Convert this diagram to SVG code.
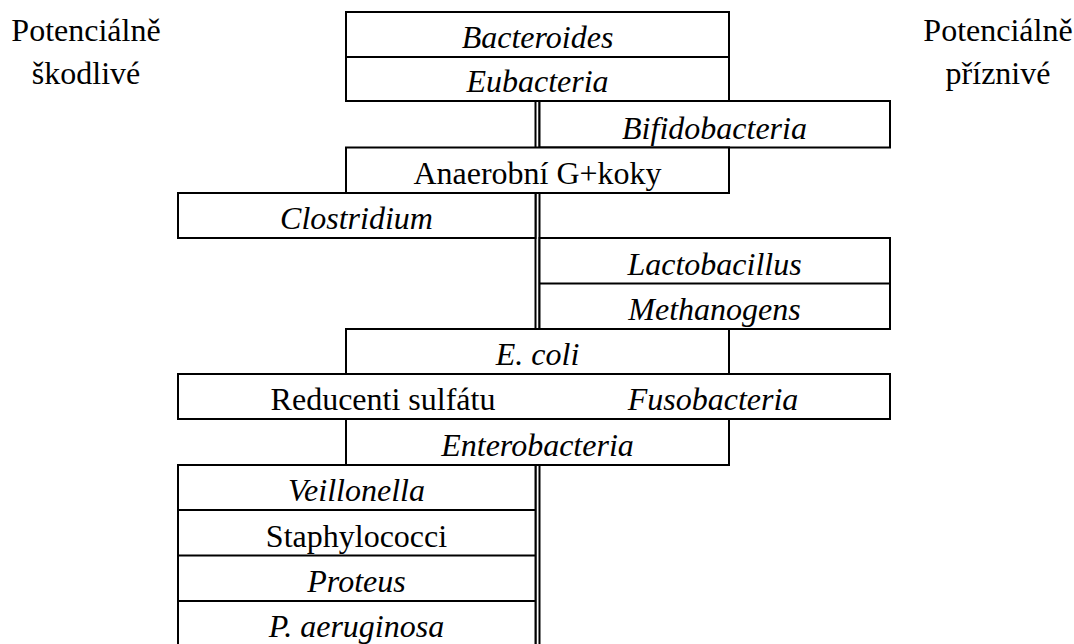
<svg xmlns="http://www.w3.org/2000/svg" width="1074" height="644" viewBox="0 0 1074 644">
<rect x="0" y="0" width="1074" height="644" fill="#fff"/>
<g id="connectors" stroke="#000" stroke-width="2">
<line x1="535.5" y1="101" x2="535.5" y2="650"/>
<line x1="539.5" y1="101" x2="539.5" y2="650"/>
</g>
<g id="label-left">
<text x="86" y="41" font-family="'Liberation Serif'" font-size="32" text-anchor="middle">Potenciálně</text>
<text x="86" y="84" font-family="'Liberation Serif'" font-size="32" text-anchor="middle">škodlivé</text>
</g>
<g id="label-right">
<text x="998" y="41" font-family="'Liberation Serif'" font-size="32" text-anchor="middle">Potenciálně</text>
<text x="998" y="84" font-family="'Liberation Serif'" font-size="32" text-anchor="middle">příznivé</text>
</g>
<g id="bacteroides-eubacteria">
<rect x="346" y="12" width="383" height="89" fill="#fff" stroke="#000" stroke-width="2"/>
<line x1="346" y1="57" x2="729" y2="57" stroke="#000" stroke-width="2"/>
<text x="537.5" y="48" font-family="'Liberation Serif'" font-size="32" font-style="italic" text-anchor="middle">Bacteroides</text>
<text x="537.5" y="92" font-family="'Liberation Serif'" font-size="32" font-style="italic" text-anchor="middle">Eubacteria</text>
</g>
<g id="bifidobacteria">
<rect x="539.5" y="101" width="350.5" height="46.5" fill="#fff" stroke="#000" stroke-width="2"/>
<text x="714.5" y="138.5" font-family="'Liberation Serif'" font-size="32" font-style="italic" text-anchor="middle">Bifidobacteria</text>
</g>
<g id="anaerobni">
<rect x="346" y="147.5" width="383" height="45.5" fill="#fff" stroke="#000" stroke-width="2"/>
<text x="537.5" y="184" font-family="'Liberation Serif'" font-size="32" text-anchor="middle">Anaerobní G+koky</text>
</g>
<g id="clostridium">
<rect x="178" y="193" width="357.5" height="45" fill="#fff" stroke="#000" stroke-width="2"/>
<text x="356.5" y="229" font-family="'Liberation Serif'" font-size="32" font-style="italic" text-anchor="middle">Clostridium</text>
</g>
<g id="lactobacillus-methanogens">
<rect x="539.5" y="238" width="350.5" height="91" fill="#fff" stroke="#000" stroke-width="2"/>
<line x1="539.5" y1="283.5" x2="890" y2="283.5" stroke="#000" stroke-width="2"/>
<text x="714.5" y="274.5" font-family="'Liberation Serif'" font-size="32" font-style="italic" text-anchor="middle">Lactobacillus</text>
<text x="714.5" y="320" font-family="'Liberation Serif'" font-size="32" font-style="italic" text-anchor="middle">Methanogens</text>
</g>
<g id="ecoli">
<rect x="346" y="329" width="383" height="45" fill="#fff" stroke="#000" stroke-width="2"/>
<text x="537.5" y="365" font-family="'Liberation Serif'" font-size="32" font-style="italic" text-anchor="middle">E. coli</text>
</g>
<g id="reducenti-fusobacteria">
<rect x="178" y="374" width="712" height="45" fill="#fff" stroke="#000" stroke-width="2"/>
<text x="383" y="410" font-family="'Liberation Serif'" font-size="32" text-anchor="middle">Reducenti sulfátu</text>
<text x="713" y="410" font-family="'Liberation Serif'" font-size="32" font-style="italic" text-anchor="middle">Fusobacteria</text>
</g>
<g id="enterobacteria">
<rect x="346" y="419" width="383" height="46" fill="#fff" stroke="#000" stroke-width="2"/>
<text x="537.5" y="456" font-family="'Liberation Serif'" font-size="32" font-style="italic" text-anchor="middle">Enterobacteria</text>
</g>
<g id="veillonella-group">
<rect x="178" y="465" width="357.5" height="190" fill="#fff" stroke="#000" stroke-width="2"/>
<line x1="178" y1="510" x2="535.5" y2="510" stroke="#000" stroke-width="2"/>
<line x1="178" y1="555.5" x2="535.5" y2="555.5" stroke="#000" stroke-width="2"/>
<line x1="178" y1="601" x2="535.5" y2="601" stroke="#000" stroke-width="2"/>
<text x="356.5" y="501" font-family="'Liberation Serif'" font-size="32" font-style="italic" text-anchor="middle">Veillonella</text>
<text x="356.5" y="546.5" font-family="'Liberation Serif'" font-size="32" text-anchor="middle">Staphylococci</text>
<text x="356.5" y="592" font-family="'Liberation Serif'" font-size="32" font-style="italic" text-anchor="middle">Proteus</text>
<text x="356.5" y="637" font-family="'Liberation Serif'" font-size="32" font-style="italic" text-anchor="middle">P. aeruginosa</text>
</g>
</svg>
